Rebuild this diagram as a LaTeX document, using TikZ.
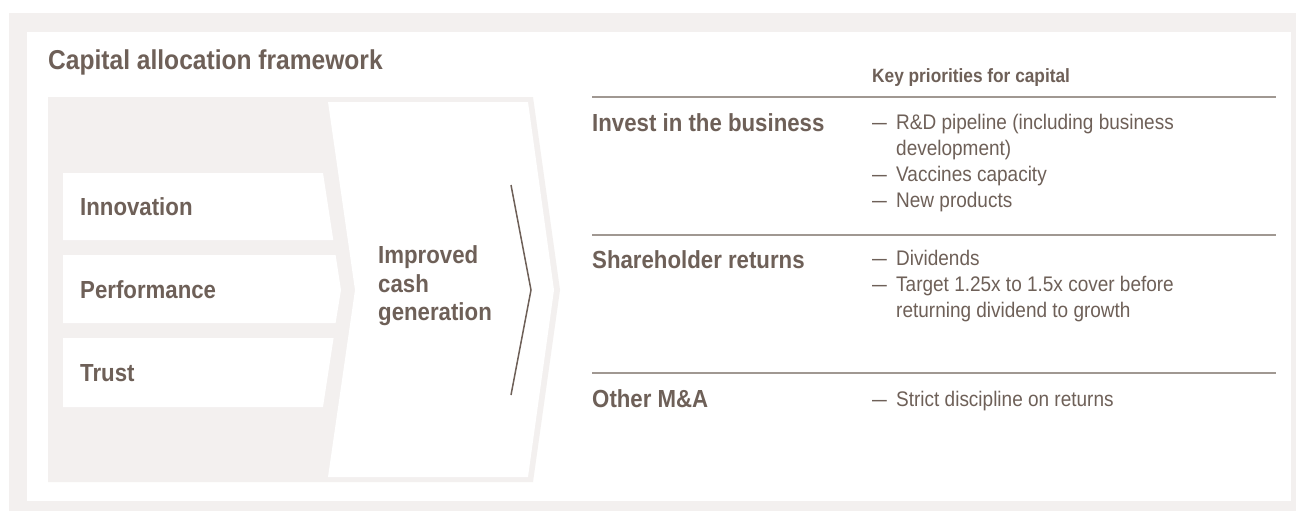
\documentclass[tikz,border=0pt]{standalone}
\usepackage{graphicx}
\usepackage{fontspec}
\setmainfont{Liberation Sans}[FakeStretch=0.9]
\definecolor{lightbg}{RGB}{243,240,239}
\definecolor{tbrown}{RGB}{110,96,88}
\definecolor{rulegray}{RGB}{160,152,146}
\newcommand{\bdash}{\scalebox{1.4}[1]{–}}
\tikzset{
  lbl/.style={inner sep=0pt, anchor=base west, text=tbrown},
  titletext/.style={lbl, font=\bfseries\fontsize{27.3}{30}\selectfont},
  headtext/.style={lbl, font=\bfseries\fontsize{24.7}{28}\selectfont},
  keytext/.style={lbl, font=\bfseries\fontsize{19.2}{22}\selectfont},
  bodytext/.style={lbl, font=\fontsize{21.1}{26}\selectfont},
  rulel/.style={draw=rulegray, line width=1.5pt},
  panel/.style={fill=lightbg},
  whitebox/.style={fill=white},
  chevline/.style={draw=tbrown, line width=1.5pt}
}
\begin{document}
\begin{tikzpicture}[x=1pt,y=-1pt]
\useasboundingbox (0,0) rectangle (1296,511);
% backgrounds
\fill[lightbg] (9,13) rectangle (1296,511);
\fill[white] (27,32) rectangle (1291,501);
% left panel with chevron outline
\path[panel] (48,97) -- (533,97) -- (560,290) -- (533,482) -- (48,482) -- cycle;
\path[whitebox] (328,102) -- (528,102) -- (554,290) -- (528,477) -- (328,477) -- (355,290) -- cycle;
% input boxes
\path[whitebox] (63,173) -- (323,173) -- (333.3,240) -- (63,240) -- cycle;
\path[whitebox] (63,255) -- (335.6,255) -- (341,290) -- (335.6,323) -- (63,323) -- cycle;
\path[whitebox] (63,338) -- (333.6,338) -- (323,407) -- (63,407) -- cycle;
% inner chevron line
\coordinate (ca) at (511,185);
\coordinate (cb) at (531,290);
\coordinate (cc) at (511,395);
\draw[chevline] (ca) -- (cb) -- (cc);
% title
\node[titletext] (title) at (48,70) {Capital allocation framework};
% left labels
\node[headtext] (innov) at (80,215) {Innovation};
\node[headtext] (perf) at (80,298) {Performance};
\node[headtext] (trust) at (80,381) {Trust};
\node[headtext] (imp1) at (378,263) {Improved};
\node[headtext] (imp2) at (378,292) {cash};
\node[headtext] (imp3) at (378,320) {generation};
% right table
\node[keytext] (key) at (872,83) {Key priorities for capital};
\coordinate (r1a) at (592,97);  \coordinate (r1b) at (1276,97);
\coordinate (r2a) at (592,235); \coordinate (r2b) at (1276,235);
\coordinate (r3a) at (592,373); \coordinate (r3b) at (1276,373);
\draw[rulel] (r1a) -- (r1b);
\draw[rulel] (r2a) -- (r2b);
\draw[rulel] (r3a) -- (r3b);
\node[headtext] (invest) at (592,131) {Invest in the business};
\node[headtext] (share) at (592,268) {Shareholder returns};
\node[headtext] (other) at (592,407) {Other M\&A};
% bullets
\node[bodytext] (d1) at (872,129) {\bdash};
\node[bodytext] (t1) at (896,129) {R\&D pipeline (including business};
\node[bodytext] (t1b) at (896,155) {development)};
\node[bodytext] (d2) at (872,181) {\bdash};
\node[bodytext] (t2) at (896,181) {Vaccines capacity};
\node[bodytext] (d3) at (872,207) {\bdash};
\node[bodytext] (t3) at (896,207) {New products};
\node[bodytext] (d4) at (872,265) {\bdash};
\node[bodytext] (t4) at (896,265) {Dividends};
\node[bodytext] (d5) at (872,291) {\bdash};
\node[bodytext] (t5) at (896,291) {Target 1.25x to 1.5x cover before};
\node[bodytext] (t5b) at (896,317) {returning dividend to growth};
\node[bodytext] (d6) at (872,406) {\bdash};
\node[bodytext] (t6) at (896,406) {Strict discipline on returns};
\end{tikzpicture}
\end{document}
